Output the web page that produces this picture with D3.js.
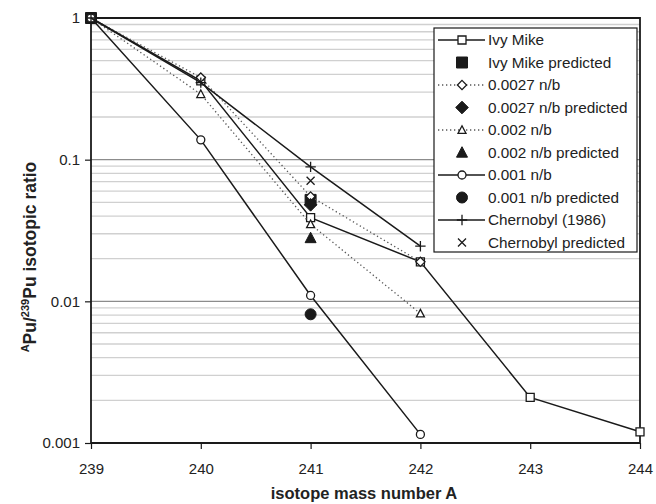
<!DOCTYPE html>
<html>
<head>
<meta charset="utf-8">
<script src="https://cdn.jsdelivr.net/npm/d3@7"></script>
<style>
  html, body { margin: 0; padding: 0; background: #fff; }
  text { font-family: "Liberation Sans", Arial, sans-serif; fill: #222; }
</style>
</head>
<body>
<svg id="chart" width="656" height="504"></svg>
<script>
// ---- data ----
const massNumbers = [239, 240, 241, 242, 243, 244];
const xTicks = [239, 240, 241, 242, 243, 244];
const yTicks = [1, 0.1, 0.01, 0.001];
const yTickLabels = ["1", "0.1", "0.01", "0.001"];

const ivyMikeX = [239, 240, 241, 242, 243, 244];
const ivyMikeY = [1, 0.36, 0.039, 0.019, 0.0021, 0.0012];
const ivyMikePredX = [239, 241];
const ivyMikePredY = [1, 0.052];

const nb0027X = [239, 240, 241, 242];
const nb0027Y = [1, 0.38, 0.055, 0.019];
const nb0027PredX = [241];
const nb0027PredY = [0.048];

const nb002X = [239, 240, 241, 242];
const nb002Y = [1, 0.29, 0.035, 0.0082];
const nb002PredX = [241];
const nb002PredY = [0.028];

const nb001X = [239, 240, 241, 242];
const nb001Y = [1, 0.138, 0.011, 0.00115];
const nb001PredX = [241];
const nb001PredY = [0.0081];

const chernobylX = [239, 240, 241, 242];
const chernobylY = [1, 0.35, 0.089, 0.0245];
const chernobylPredX = [241];
const chernobylPredY = [0.071];

const seriesNames = ["Ivy Mike", "Ivy Mike predicted", "0.0027 n/b", "0.0027 n/b predicted",
  "0.002 n/b", "0.002 n/b predicted", "0.001 n/b", "0.001 n/b predicted",
  "Chernobyl (1986)", "Chernobyl predicted"];

// ---- series table built from the arrays ----
const zip = (xs, ys) => xs.map((x, i) => ({x, y: ys[i]}));
const series = [
  {name: seriesNames[0], pts: zip(ivyMikeX, ivyMikeY), line: "solid", marker: "square", filled: false},
  {name: seriesNames[1], pts: zip(ivyMikePredX, ivyMikePredY), line: null, marker: "square", filled: true},
  {name: seriesNames[2], pts: zip(nb0027X, nb0027Y), line: "dotted", marker: "diamond", filled: false},
  {name: seriesNames[3], pts: zip(nb0027PredX, nb0027PredY), line: null, marker: "diamond", filled: true},
  {name: seriesNames[4], pts: zip(nb002X, nb002Y), line: "dotted", marker: "triangle", filled: false},
  {name: seriesNames[5], pts: zip(nb002PredX, nb002PredY), line: null, marker: "triangle", filled: true},
  {name: seriesNames[6], pts: zip(nb001X, nb001Y), line: "solid", marker: "circle", filled: false},
  {name: seriesNames[7], pts: zip(nb001PredX, nb001PredY), line: null, marker: "circle", filled: true},
  {name: seriesNames[8], pts: zip(chernobylX, chernobylY), line: "solid", marker: "plus", filled: false},
  {name: seriesNames[9], pts: zip(chernobylPredX, chernobylPredY), line: null, marker: "cross", filled: false}
];

// ---- layout ----
const svg = d3.select("#chart");
const pLeft = 91, pRight = 640, pTop = 18, pBottom = 443;

const x = d3.scaleLinear().domain([239, 244]).range([pLeft, pRight]);
const y = d3.scaleLog().domain([0.001, 1]).range([pBottom, pTop]);

// gridlines
const minor = [];
[0.001, 0.01, 0.1].forEach(d => { for (let k = 2; k <= 9; k++) minor.push(d * k); });
svg.append("g").selectAll("line").data(minor).join("line")
  .attr("x1", pLeft).attr("x2", pRight)
  .attr("y1", d => y(d)).attr("y2", d => y(d))
  .attr("stroke", "#d0d0d0").attr("stroke-width", 1.3);
svg.append("g").selectAll("line").data([0.1, 0.01]).join("line")
  .attr("x1", pLeft).attr("x2", pRight)
  .attr("y1", d => y(d)).attr("y2", d => y(d))
  .attr("stroke", "#8c8c8c").attr("stroke-width", 1.3);

// frame (top & right)
svg.append("path")
  .attr("d", `M${pLeft},${pTop}H${pRight}V${pBottom}`)
  .attr("fill", "none").attr("stroke", "#1a1a1a").attr("stroke-width", 1.8);

// axes
const xAxis = d3.axisBottom(x).tickValues(xTicks).tickFormat(d3.format("d"))
  .tickSizeInner(6).tickSizeOuter(0).tickPadding(14);
const gx = svg.append("g").attr("transform", `translate(0,${pBottom})`).call(xAxis);
const yAxis = d3.axisLeft(y).tickValues(yTicks).tickFormat((d, i) => yTickLabels[i])
  .tickSizeInner(6).tickSizeOuter(0).tickPadding(5);
const gy = svg.append("g").attr("transform", `translate(${pLeft},0)`).call(yAxis);
[gx, gy].forEach(g => {
  g.select(".domain").attr("stroke", "#1a1a1a").attr("stroke-width", 1.8);
  g.selectAll(".tick line").attr("stroke", "#1a1a1a").attr("stroke-width", 1.2);
  g.selectAll(".tick text").attr("font-size", 15).attr("fill", "#222")
    .attr("font-family", "'Liberation Sans', Arial, sans-serif");
});
gx.select(".domain").attr("d", `M${pLeft},0H${pRight}`);
gy.select(".domain").attr("d", `M0,${pBottom}V${pTop}`);

// marker shapes
function markerPath(type, r) {
  switch (type) {
    case "square": return `M${-r},${-r}h${2*r}v${2*r}h${-2*r}Z`;
    case "diamond": return `M0,${-r*1.15}L${r*1.15},0L0,${r*1.15}L${-r*1.15},0Z`;
    case "triangle": return `M0,${-r*1.05}L${r},${r*0.85}L${-r},${r*0.85}Z`;
    case "circle": return d3.symbol(d3.symbolCircle, Math.PI * r * r)();
    case "plus": return `M${-r*1.3},0H${r*1.3}M0,${-r*1.3}V${r*1.3}`;
    case "cross": return `M${-r},${-r}L${r},${r}M${-r},${r}L${r},${-r}`;
  }
}
function drawMarker(g, s, cx, cy) {
  const r = s.filled ? 5.5 : 4;
  const p = g.append("path").attr("d", markerPath(s.marker, r))
    .attr("transform", `translate(${cx},${cy})`);
  if (s.marker === "plus" || s.marker === "cross") {
    p.attr("fill", "none").attr("stroke", "#1a1a1a").attr("stroke-width", 1.3);
  } else if (s.filled) {
    p.attr("fill", "#1a1a1a").attr("stroke", "#1a1a1a").attr("stroke-width", 1);
  } else {
    p.attr("fill", "#fff").attr("stroke", "#1a1a1a").attr("stroke-width", 1.3);
  }
}
function styleLine(p, style) {
  if (style === "solid") {
    p.attr("stroke", "#1a1a1a").attr("stroke-width", 1.5);
  } else {
    p.attr("stroke", "#555").attr("stroke-width", 1.3).attr("stroke-dasharray", "1.3,2.7");
  }
  p.attr("fill", "none");
}

const line = d3.line().x(d => x(d.x)).y(d => y(d.y));
const plot = svg.append("g");
series.forEach(s => {
  const g = plot.append("g");
  if (s.line) styleLine(g.append("path").datum(s.pts).attr("d", line), s.line);
  s.pts.forEach(d => drawMarker(g, s, x(d.x), y(d.y)));
});

// legend
const lg = svg.append("g");
lg.append("rect").attr("x", 434).attr("y", 28).attr("width", 203).attr("height", 224)
  .attr("fill", "#fff").attr("stroke", "#1a1a1a").attr("stroke-width", 1.2);
series.forEach((s, i) => {
  const cy = 40 + i * 22.5;
  const g = lg.append("g");
  if (s.line) styleLine(g.append("path").attr("d", `M438,${cy}H485`), s.line);
  drawMarker(g, s, 462, cy);
  g.append("text").attr("x", 488).attr("y", cy).attr("dy", "0.35em")
    .attr("font-size", 15.3).text(s.name);
});

// axis titles
svg.append("text").attr("x", 364).attr("y", 499).attr("text-anchor", "middle")
  .attr("font-size", 16.5).attr("font-weight", "bold").text("isotope mass number A");

const yt = svg.append("text").attr("transform", "translate(36,257) rotate(-90)")
  .attr("text-anchor", "middle").attr("font-size", 17.5).attr("font-weight", "bold");
yt.append("tspan").attr("font-size", 11).attr("dy", -7).text("A");
yt.append("tspan").attr("dy", 7).text("Pu/");
yt.append("tspan").attr("font-size", 11).attr("dy", -7).text("239");
yt.append("tspan").attr("dy", 7).text("Pu isotopic ratio");
</script>
</body>
</html>
